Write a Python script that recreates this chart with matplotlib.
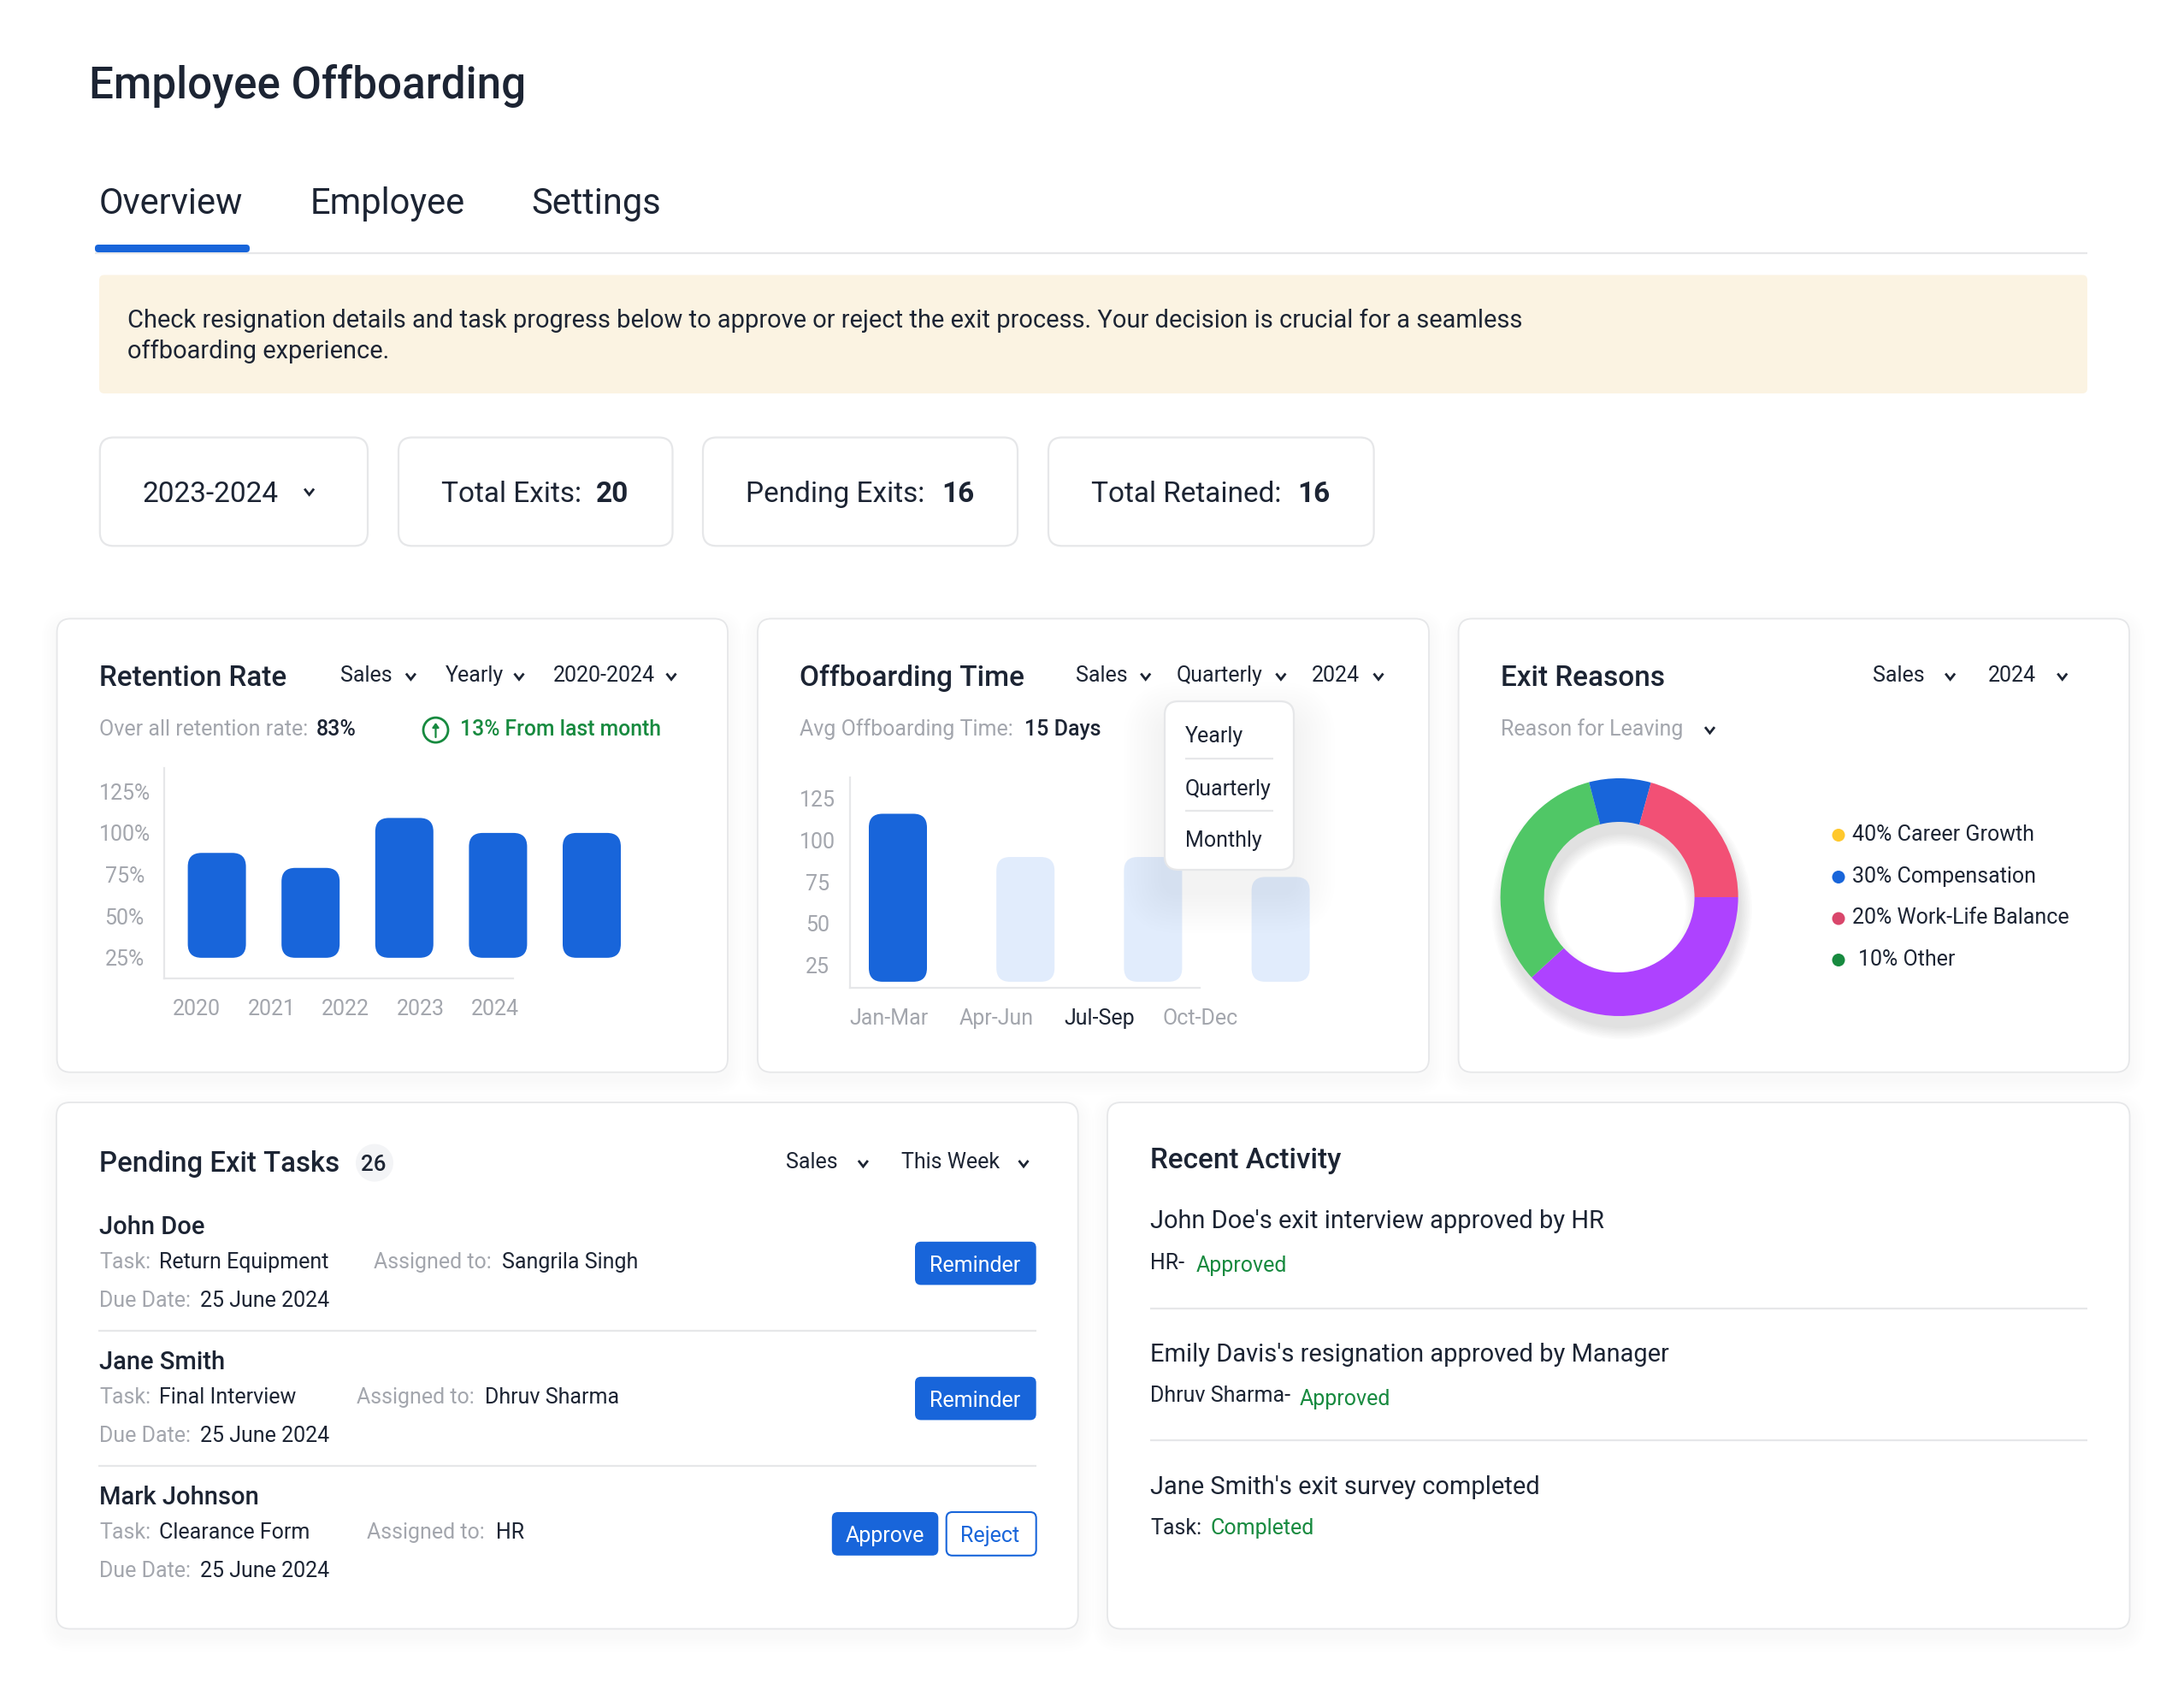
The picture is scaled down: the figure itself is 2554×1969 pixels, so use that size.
import numpy as np
import matplotlib
matplotlib.use("Agg")
import matplotlib.pyplot as plt
from matplotlib.patches import Circle, FancyBboxPatch, Wedge

plt.rcParams["font.family"] = ["Roboto", "DejaVu Sans"]
plt.rcParams["lines.solid_capstyle"] = "butt"

# chart data
retention_years = ["2020", "2021", "2022", "2023", "2024"]
retention_values = [88, 79, 109, 100, 100]
retention_ticks = [25, 50, 75, 100, 125]

quarters = ["Jan-Mar", "Apr-Jun", "Jul-Sep", "Oct-Dec"]
offboarding_values = [116, 90, 90, 78]
offboarding_ticks = [25, 50, 75, 100, 125]

donut_values = [38.2, 32.7, 8.4, 20.7]
donut_colors = ["#AE42FF", "#50C766", "#1865DA", "#F25075"]
legend_labels = ["40% Career Growth", "30% Compensation", "20% Work-Life Balance", "10% Other"]
legend_colors = ["#FFC82C", "#1865DA", "#D9466B", "#178A3F"]

# page text
tabs = ["Overview", "Employee", "Settings"]
banner_lines = [
    "Check resignation details and task progress below to approve or reject the exit process. Your decision is crucial for a seamless",
    "offboarding experience.",
]
task_names = ["John Doe", "Jane Smith", "Mark Johnson"]
task_items = ["Return Equipment", "Final Interview", "Clearance Form"]
task_assignees = ["Sangrila Singh", "Dhruv Sharma", "HR"]
due_date = "25 June 2024"
activity_titles = [
    "John Doe's exit interview approved by HR",
    "Emily Davis's resignation approved by Manager",
    "Jane Smith's exit survey completed",
]
activity_owners = ["HR-", "Dhruv Sharma-", "Task:"]
activity_states = ["Approved", "Approved", "Completed"]

W, H = 2554, 1969
DARK = "#1C2433"
GRAY = "#A3A6AD"
BLUE = "#1865DA"
LIGHT_BLUE = "#E1ECFC"
GREEN = "#178A3F"
LINE = "#E6E7E9"
SMALL = 18

fig = plt.figure(figsize=(W / 100, H / 100), dpi=100, facecolor="white")


def px_axes(left, top, right, bottom, zorder=1):
    ax = fig.add_axes([left / W, 1 - bottom / H, (right - left) / W, (bottom - top) / H], zorder=zorder)
    ax.patch.set_alpha(0)
    return ax


page = px_axes(0, 0, W, H, zorder=0)
page.set_xlim(0, W)
page.set_ylim(H, 0)
page.axis("off")

top = px_axes(0, 0, W, H, zorder=5)
top.set_xlim(0, W)
top.set_ylim(H, 0)
top.axis("off")


def label(x, y, s, size=SMALL, color=DARK, weight="normal", ha="left", ax=page):
    # y is the visual middle of the line, text sits on its baseline
    return ax.text(x, y + 0.35 * size / 0.72, s, fontsize=size, color=color, fontweight=weight,
                   ha=ha, va="baseline", zorder=6)


def round_box(x0, y0, x1, y1, r, face="white", edge="none", lw=0, alpha=None, ax=page, z=2):
    box = FancyBboxPatch((x0, y0), x1 - x0, y1 - y0, boxstyle=f"round,pad=0,rounding_size={r}",
                         facecolor=face, edgecolor=edge, linewidth=lw, alpha=alpha, zorder=z)
    ax.add_patch(box)
    return box


def soft_shadow(x0, y0, x1, y1, r, dy, steps, spread, alpha, ax=page, z=1):
    for k in range(steps):
        g = spread * (k + 1)
        round_box(x0 - g, y0 - g + dy, x1 + g, y1 + g + dy, r + g, face="black", alpha=alpha, ax=ax, z=z)


def card(x0, y0, x1, y1, r=16):
    soft_shadow(x0, y0, x1, y1, r, 8, 6, 3, 0.004)
    round_box(x0, y0, x1, y1, r, edge=LINE, lw=1.3)


def chevron(x, y, ax=page, w=5.5, h=3.5, lw=2.0):
    ax.plot([x - w, x, x + w], [y - h, y + h, y - h], color=DARK, lw=lw, zorder=6,
            solid_capstyle="butt", solid_joinstyle="miter")


def dropdown(x, y, s, chev_x):
    label(x, y, s)
    chevron(chev_x, y + 3)


def rounded_bars(ax, x, values, base, width, colors, radius_px):
    """Bars through ax.bar, then swapped for rounded patches at the same place."""
    bars = ax.bar(x, np.array(values) - base, width=width, bottom=base, color=colors)
    pos = ax.get_position()
    x_unit = (ax.get_xlim()[1] - ax.get_xlim()[0]) / (pos.width * W)
    y_unit = (ax.get_ylim()[1] - ax.get_ylim()[0]) / (pos.height * H)
    for bar in bars:
        bar.set_visible(False)
        ax.add_patch(FancyBboxPatch((bar.get_x(), bar.get_y()), bar.get_width(), bar.get_height(),
                                    boxstyle=f"round,pad=0,rounding_size={radius_px * x_unit}",
                                    mutation_aspect=y_unit / x_unit,
                                    facecolor=bar.get_facecolor(), edgecolor="none"))


def style_axis(ax, x_end, label_pad, ticks, tick_fmt):
    for side in ("top", "right"):
        ax.spines[side].set_visible(False)
    for side in ("left", "bottom"):
        ax.spines[side].set_color(LINE)
        ax.spines[side].set_linewidth(1.6)
    ax.spines["bottom"].set_bounds(ax.get_xlim()[0], x_end)
    ax.set_yticks(ticks, [tick_fmt.format(t) for t in ticks])
    ax.tick_params(length=0, labelsize=SMALL, labelcolor=GRAY)
    ax.tick_params(axis="y", pad=label_pad)
    ax.tick_params(axis="x", pad=17)
    for t in ax.get_yticklabels():
        t.set_ha("center")


# header
label(104, 96.5, "Employee Offboarding", size=36.8, weight="medium")
for x, s in zip([116, 362.5, 621], tabs):
    label(x, 235, s, size=30)
page.plot([111, 2441], [295.5, 295.5], color=LINE, lw=1.6, zorder=2)
round_box(111, 286, 292, 295, 4, face=BLUE, z=3)
round_box(116, 321.5, 2441, 460, 6, face="#FBF3E2")
for y, s in zip([373, 409], banner_lines):
    label(148.7, y, s, size=20.9)

# stat boxes
for x0, x1 in [(116.8, 430), (466, 786.5), (822, 1190), (1226, 1606.6)]:
    round_box(x0, 511.5, x1, 638.3, 16, edge=LINE, lw=1.6)
label(166.6, 575, "2023-2024", size=24)
chevron(361.6, 575)
for x, s, xv, v in [(515.8, "Total Exits:", 697, "20"), (872, "Pending Exits:", 1101, "16"),
                    (1276, "Total Retained:", 1517, "16")]:
    label(x, 575, s, size=24)
    label(xv, 575, v, size=24, weight="bold")

# cards
card(66.6, 723.4, 851, 1253.7)
card(886, 723.4, 1671, 1253.7)
card(1705.6, 723.4, 2490, 1253.7)
card(66, 1289, 1260.7, 1904.5)
card(1295, 1289, 2490.5, 1904.5)

# retention rate
label(116, 790, "Retention Rate", size=24, weight="medium")
dropdown(397.8, 788, "Sales", 480.4)
dropdown(520.7, 788, "Yearly", 607)
dropdown(646.7, 788, "2020-2024", 785)
label(116, 851.5, "Over all retention rate:", color=GRAY)
label(370, 851.5, "83%", weight="medium")
page.add_patch(Circle((509.5, 853.6), 14.5, facecolor="none", edgecolor=GREEN, lw=2, zorder=6))
page.annotate("", xy=(509.5, 845), xytext=(509.5, 862), zorder=6,
              arrowprops=dict(arrowstyle="-|>,head_width=0.22,head_length=0.3", color=GREEN, lw=1.6, shrinkA=0, shrinkB=0))
label(537.6, 851.5, "13% From last month", size=17.8, color=GREEN, weight="medium")

ax1 = px_axes(191.6, 898, 760, 1144.2)
step1, first1 = 109.6, 253.6
ax1.set_xlim((191.6 - first1) / step1, (760 - first1) / step1)
ax1.set_ylim(12.5, 139)
rounded_bars(ax1, np.arange(len(retention_values)), retention_values, 25, 68 / step1, BLUE, 16)
ax1.set_xticks([(p - first1) / step1 for p in (230, 318, 404, 492, 579)], retention_years)
style_axis(ax1, (600 - first1) / step1, 33, retention_ticks, "{}%")

# offboarding time
label(935, 790, "Offboarding Time", size=24, weight="medium")
dropdown(1257.6, 788, "Sales", 1339.7)
dropdown(1376, 788, "Quarterly", 1497.9)
dropdown(1534, 788, "2024", 1612)
label(935, 851, "Avg Offboarding Time:", color=GRAY)
label(1197.9, 851, "15 Days", weight="medium")

ax2 = px_axes(993.8, 908.7, 1560, 1154.9)
step2, first2 = 149.2, 1050
ax2.set_xlim((993.8 - first2) / step2, (1560 - first2) / step2)
ax2.set_ylim(11.4, 138)
rounded_bars(ax2, np.arange(len(offboarding_values)), offboarding_values, 15, 68 / step2,
             [BLUE, LIGHT_BLUE, LIGHT_BLUE, LIGHT_BLUE], 16)
ax2.set_xticks([(p - first2) / step2 for p in (1039.7, 1164.9, 1285.6, 1404)], quarters)
style_axis(ax2, (1403 - first2) / step2, 27, offboarding_ticks, "{}")
ax2.get_xticklabels()[2].set_color(DARK)

# dropdown menu sits over the bars
soft_shadow(1362, 820, 1513, 1017, 16, 26, 12, 4, 0.0032, ax=top, z=1)
round_box(1362, 820, 1513, 1017, 16, edge=LINE, lw=1.6, ax=top, z=2)
for y, s in zip([859.5, 920.8, 981.7], ["Yearly", "Quarterly", "Monthly"]):
    label(1385.6, y, s, ax=top)
for y in (887, 948):
    top.plot([1385.6, 1489], [y, y], color=LINE, lw=1.6, zorder=3)

# exit reasons
label(1755, 790, "Exit Reasons", size=24, weight="medium")
dropdown(2189.8, 788, "Sales", 2280.6)
dropdown(2325, 788, "2024", 2411.7)
label(1755, 851.5, "Reason for Leaving", color=GRAY)
chevron(1999.5, 853.6)

cx, cy, R, r = 1893.6, 1049, 139, 88
for k in range(10):
    g = 1.5 * k
    page.add_patch(Wedge((cx + 3, cy + 14), R + g, 0, 360, width=R - r + 2 * g, facecolor="black",
                         edgecolor="none", alpha=0.012, zorder=3))
ax3 = px_axes(cx - R, cy - R, cx + R, cy + R)
ax3.pie(donut_values, colors=donut_colors, startangle=0, counterclock=False, radius=1,
        wedgeprops=dict(width=(R - r) / R, linewidth=0))
ax3.set_xlim(-1, 1)
ax3.set_ylim(-1, 1)

for y, s, c, x in zip([974, 1023, 1071.5, 1120], legend_labels, legend_colors, [2166.3, 2166.3, 2166.3, 2173]):
    page.add_patch(Circle((2150, y + 2.5), 7.5, facecolor=c, edgecolor="none", zorder=6))
    label(x, y, s)

# pending tasks
label(116, 1358, "Pending Exit Tasks", size=23.7, weight="medium")
page.add_patch(Circle((438, 1359.6), 22, facecolor="#F3F4F6", edgecolor="none", zorder=3))
label(436.5, 1360, "26", size=18.5, weight="medium", ha="center")
dropdown(919, 1357.5, "Sales", 1009.4)
dropdown(1054.5, 1357.5, "This Week", 1197)

name_y = [1433, 1591, 1749]
assign_x = [(436.7, 586.8), (417.2, 567.4), (428.9, 579.8)]
for i, (name, item, who) in enumerate(zip(task_names, task_items, task_assignees)):
    y = name_y[i]
    label(116, y, name, size=21, weight="medium")
    label(116, y + 41, "Task:", color=GRAY)
    label(186, y + 41, item)
    label(assign_x[i][0], y + 41, "Assigned to:", color=GRAY)
    label(assign_x[i][1], y + 41, who)
    label(116, y + 86.5, "Due Date:", color=GRAY)
    label(233.5, y + 86.5, due_date)
for y in (1556.3, 1714.3):
    page.plot([114.5, 1212], [y, y], color=LINE, lw=1.6, zorder=3)

for y0 in (1451.8, 1609.8):
    round_box(1070, y0, 1211.7, y0 + 50.6, 7, face=BLUE, z=3)
    label(1140, y0 + 26.5, "Reminder", color="white", ha="center")
round_box(972.8, 1768, 1097.3, 1818.8, 7, face=BLUE, z=3)
label(1035, 1794.5, "Approve", color="white", ha="center")
round_box(1106.7, 1768, 1211.7, 1818.8, 7, edge=BLUE, lw=1.5, z=3)
label(1157.5, 1794.5, "Reject", color=BLUE, ha="center")

# recent activity
label(1345, 1354, "Recent Activity", size=24, weight="medium")
title_y = [1425.5, 1581.5, 1736.5]
owner_y = [1475.5, 1630.5, 1785]
state_x = [1399, 1519.5, 1415.6]
state_dy = [3, 4, 0]
for i in range(3):
    label(1345, title_y[i], activity_titles[i], size=20.9)
    label(1345, owner_y[i], activity_owners[i])
    label(state_x[i], owner_y[i] + state_dy[i], activity_states[i], color=GREEN)
for y in (1529.6, 1684.4):
    page.plot([1345, 2441], [y, y], color=LINE, lw=1.6, zorder=3)

fig.savefig("out.png", dpi=100, facecolor="white")
